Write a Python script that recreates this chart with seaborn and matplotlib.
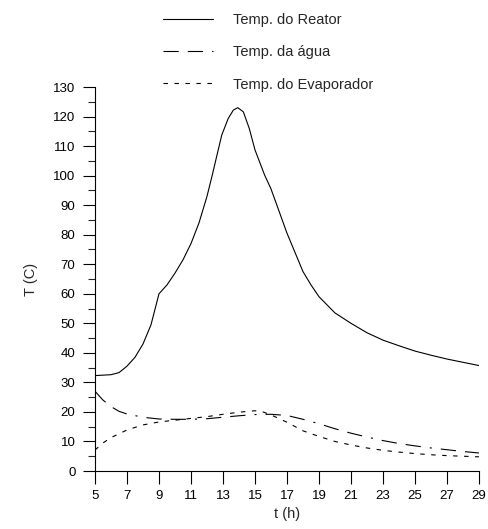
import matplotlib
matplotlib.use("Agg")
import matplotlib.pyplot as plt
import seaborn as sns
import numpy as np
import pandas as pd
from matplotlib.lines import Line2D
from matplotlib.ticker import MultipleLocator

# ---- data ----
t_reator = [5, 6, 6.5, 7, 7.5, 8, 8.5, 9, 9.5, 10, 10.5, 11, 11.5, 12, 12.33, 12.6, 12.92, 13.33,
            13.65, 13.92, 14.27, 14.64, 15, 15.6, 16, 16.5, 17, 17.5, 18, 18.5, 19, 20, 21, 22,
            23, 24, 25, 26, 27, 28, 29]
T_reator = [32.3, 32.6, 33.3, 35.5, 38.5, 43, 49.5, 60, 63, 67, 71.5, 77, 84, 93, 100.2, 106.4,
            113.7, 119.4, 122.2, 123, 121.6, 116, 108.7, 100.2, 95.5, 88, 80.5, 74, 67.5, 63, 59,
            53.5, 50, 46.8, 44.3, 42.4, 40.6, 39.2, 37.9, 36.8, 35.7]

t_agua = [5, 5.5, 6, 6.5, 7, 8, 9, 10, 11, 12, 13, 14, 15, 16, 17, 18, 19, 20, 21, 22, 23, 24, 25, 26, 27, 28, 29]
T_agua = [27, 24, 21.8, 20.2, 19.3, 18.2, 17.6, 17.5, 17.5, 17.7, 18.2, 18.7, 19.1, 19.2, 18.8, 17.5,
          16, 14.3, 12.8, 11.5, 10.3, 9.3, 8.5, 7.8, 7.2, 6.6, 6.1]

t_evap = [5, 5.5, 6, 7, 8, 9, 10, 11, 12, 13, 14, 15, 15.5, 16, 17, 18, 19, 20, 21, 22, 23, 24, 25,
          26, 27, 28, 29]
T_evap = [7.1, 9.5, 11.3, 13.9, 15.6, 16.6, 17.2, 17.8, 18.4, 19.2, 19.9, 20.4, 20, 19, 16.5, 13.6,
          11.7, 10, 8.8, 7.8, 7.0, 6.4, 5.9, 5.5, 5.2, 5.0, 4.8]

labels = ["Temp. do Reator", "Temp. da água", "Temp. do Evaporador"]
x_ticks = list(range(5, 30, 2))
y_ticks = list(range(0, 131, 10))

# ---- style ----
sns.set_style("ticks")
plt.rcParams["font.family"] = ["Liberation Sans", "DejaVu Sans"]
plt.rcParams["lines.scale_dashes"] = False

fig = plt.figure(figsize=(4.88, 5.29), dpi=100)
ax = fig.add_axes([95 / 488, 1 - 471 / 529, (479 - 95) / 488, (471 - 87) / 529])

lw = 0.8
styles = ["-", (0, (11, 6.5, 11, 6.5, 1.5, 6.5)), (0, (3.2, 4.7))]
series = [(t_reator, T_reator), (t_agua, T_agua), (t_evap, T_evap)]
for (tx, ty), ls, lab in zip(series, styles, labels):
    df = pd.DataFrame({"t": tx, "T": ty})
    sns.lineplot(data=df, x="t", y="T", ax=ax, color="black", linewidth=lw, linestyle=ls)

ax.set_xlim(5, 29)
ax.set_ylim(0, 130)
ax.set_xticks(x_ticks)
ax.set_yticks(y_ticks)
ax.yaxis.set_minor_locator(MultipleLocator(5))
ax.tick_params(axis="both", which="major", direction="out", length=9, width=0.8,
               labelsize=9.5, colors="black", pad=5)
ax.tick_params(axis="y", which="minor", direction="out", length=5, width=0.8)
for s in ["top", "right"]:
    ax.spines[s].set_visible(False)
for s in ["left", "bottom"]:
    ax.spines[s].set_linewidth(0.8)
    ax.spines[s].set_color("black")
ax.set_xlabel("t (h)", fontsize=10.5, labelpad=3)
ax.set_ylabel("T (C)", fontsize=10.5, labelpad=11)

handles = [Line2D([0], [0], color="black", linewidth=lw, linestyle=ls) for ls in styles]
fig.legend(handles, labels, loc="upper left", bbox_to_anchor=(150 / 488, 1 - 0 / 529),
           frameon=False, fontsize=10.5, handlelength=3.4, handletextpad=1.4,
           labelspacing=1.25)

fig.savefig("out.png", dpi=100)
